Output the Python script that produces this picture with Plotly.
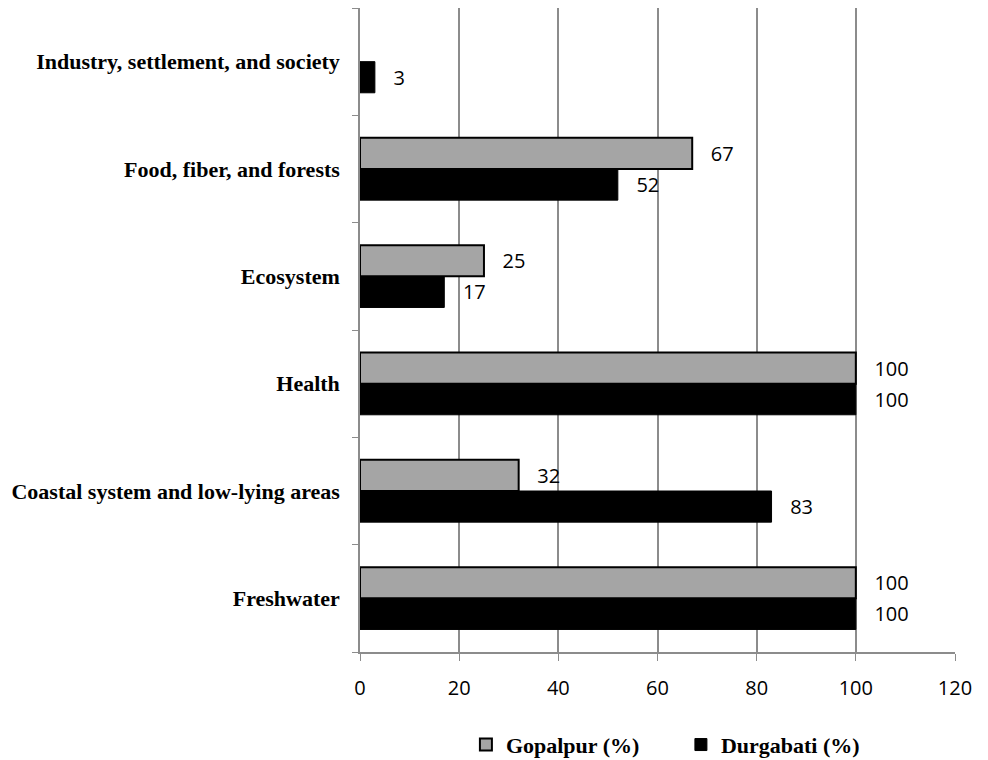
import plotly.graph_objects as go

categories = ["Freshwater", "Coastal system and low-lying areas", "Health",
              "Ecosystem", "Food, fiber, and forests", "Industry, settlement, and society"]
gopalpur = [100, 32, 100, 25, 67, None]
durgabati = [100, 83, 100, 17, 52, 3]
x_ticks = [0, 20, 40, 60, 80, 100, 120]

PAD = "\u00a0\u00a0\u00a0"

def labels(vals):
    return ["" if v is None else PAD + str(v) for v in vals]

fig = go.Figure()
fig.add_trace(go.Bar(
    y=categories, x=durgabati, orientation="h", name="Durgabati (%)",
    marker=dict(color="#000000", line=dict(color="#000000", width=1)),
    text=labels(durgabati), textposition="outside", cliponaxis=False,
    textfont=dict(family="Open Sans", size=20, color="#000000"),
))
fig.add_trace(go.Bar(
    y=categories, x=gopalpur, orientation="h", name="Gopalpur (%)",
    marker=dict(color="#a5a5a5", line=dict(color="#000000", width=2)),
    text=labels(gopalpur), textposition="outside", cliponaxis=False,
    textfont=dict(family="Open Sans", size=20, color="#000000"),
))

fig.update_layout(
    width=980, height=752,
    margin=dict(l=352, r=33, t=0, b=108, autoexpand=False),
    paper_bgcolor="white", plot_bgcolor="white",
    barmode="group", bargap=0.42, bargroupgap=0,
    showlegend=True,
    legend=dict(orientation="h", x=0.178, xanchor="left", y=-0.144, yanchor="middle",
                traceorder="reversed", itemwidth=30, entrywidth=170,
                font=dict(family="Liberation Serif", size=22, color="#000000", weight="bold")),
    xaxis=dict(range=[0, 120], tickvals=x_ticks, showgrid=True, gridcolor="#8c8c8c",
               gridwidth=1.5, zeroline=False, showline=True, linecolor="#8c8c8c",
               linewidth=1.5, ticks="outside", ticklen=7, tickcolor="#8c8c8c",
               ticklabelstandoff=10,
               tickfont=dict(family="Open Sans", size=20, color="#000000")),
    yaxis=dict(showline=True, linecolor="#8c8c8c", linewidth=1.5, ticks="outside",
               tickson="boundaries", ticklen=6, tickcolor="#8c8c8c", showgrid=False,
               ticklabelstandoff=14,
               tickfont=dict(family="Liberation Serif", size=22, color="#000000", weight="bold")),
)

fig.write_html("out.html")
